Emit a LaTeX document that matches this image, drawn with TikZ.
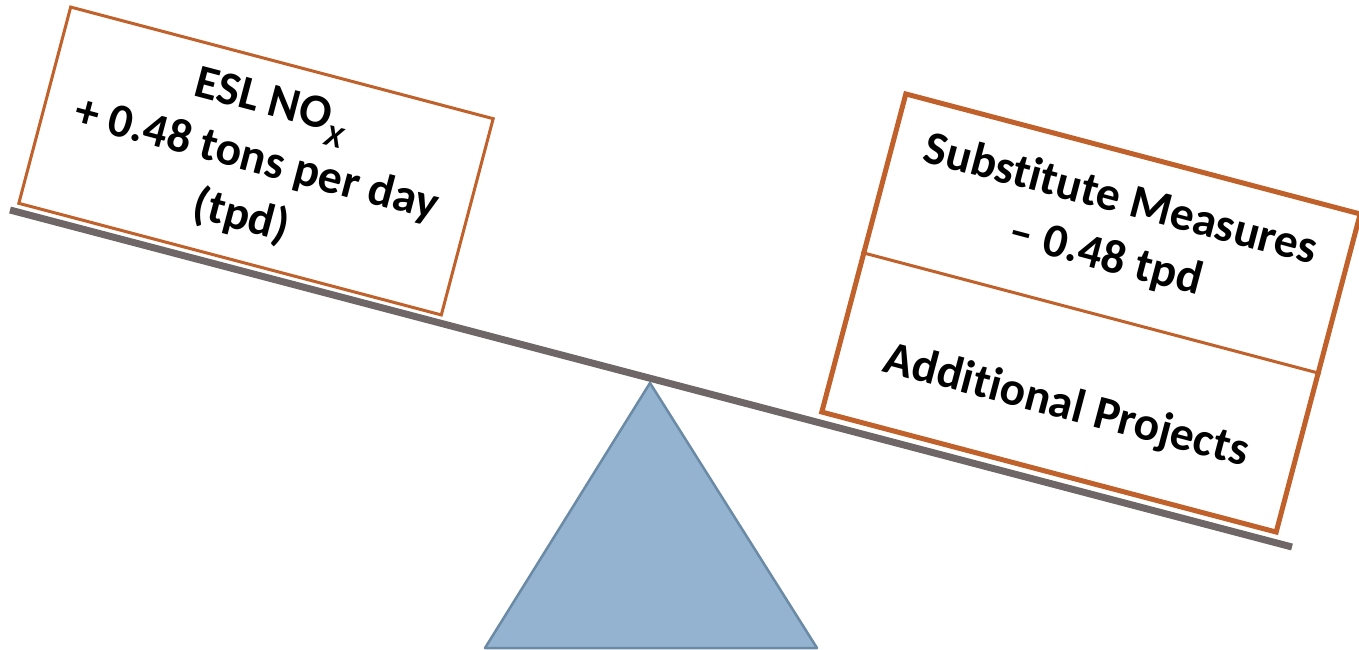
\documentclass[tikz,border=0pt]{standalone}
\usepackage{fontspec}
\setmainfont[Ligatures=NoCommon]{Carlito}
\usetikzlibrary{calc}
\definecolor{boxorange}{HTML}{C0602A}
\definecolor{beamgray}{HTML}{6F6767}
\definecolor{fulcrumfill}{HTML}{93B3D0}
\definecolor{fulcrumline}{HTML}{6A8AA5}
\begin{document}
\begin{tikzpicture}[x=1pt,y=-1pt,
  panel/.style={draw=boxorange, fill=white, rectangle, rotate=-14.8, inner sep=0pt},
  txt/.style={rotate=-14.8, align=center, inner sep=0pt, font=\fontsize{47.5}{59}\selectfont\bfseries}]
\useasboundingbox (0,0) rectangle (1359,650);
% fulcrum
\coordinate (apex) at (650,383);
\coordinate (baseL) at (485,648);
\coordinate (baseR) at (817,648);
\draw[fill=fulcrumfill, draw=fulcrumline, line width=2.5pt, line join=round] (apex) -- (baseR) -- (baseL) -- cycle;
% beam
\coordinate (beamL) at (10,210);
\coordinate (beamR) at (1292,547);
\draw[beamgray, line width=7pt] (beamL) -- (beamR);
% left box
\node[panel, line width=3pt, minimum width=437pt, minimum height=203pt] (lbox) at (256,161) {};
\node[txt] (ltext) at (lbox.center) {ESL NO\raisebox{-14pt}{\fontsize{31}{31}\selectfont\itshape X}\\+ 0.48 tons per day\\(tpd)};
% right box
\node[panel, line width=5pt, minimum width=470pt, minimum height=329pt] (rbox) at (1091,313) {};
\draw[boxorange, line width=3pt] (rbox.west) -- (rbox.east);
\node[txt] (rtop) at ($(rbox.center)!0.52!(rbox.north)$) {Substitute Measures\\– 0.48 tpd};
\node[txt] (rbot) at ($(rbox.center)!0.58!(rbox.south)$) {Additional Projects};
\end{tikzpicture}
\end{document}
